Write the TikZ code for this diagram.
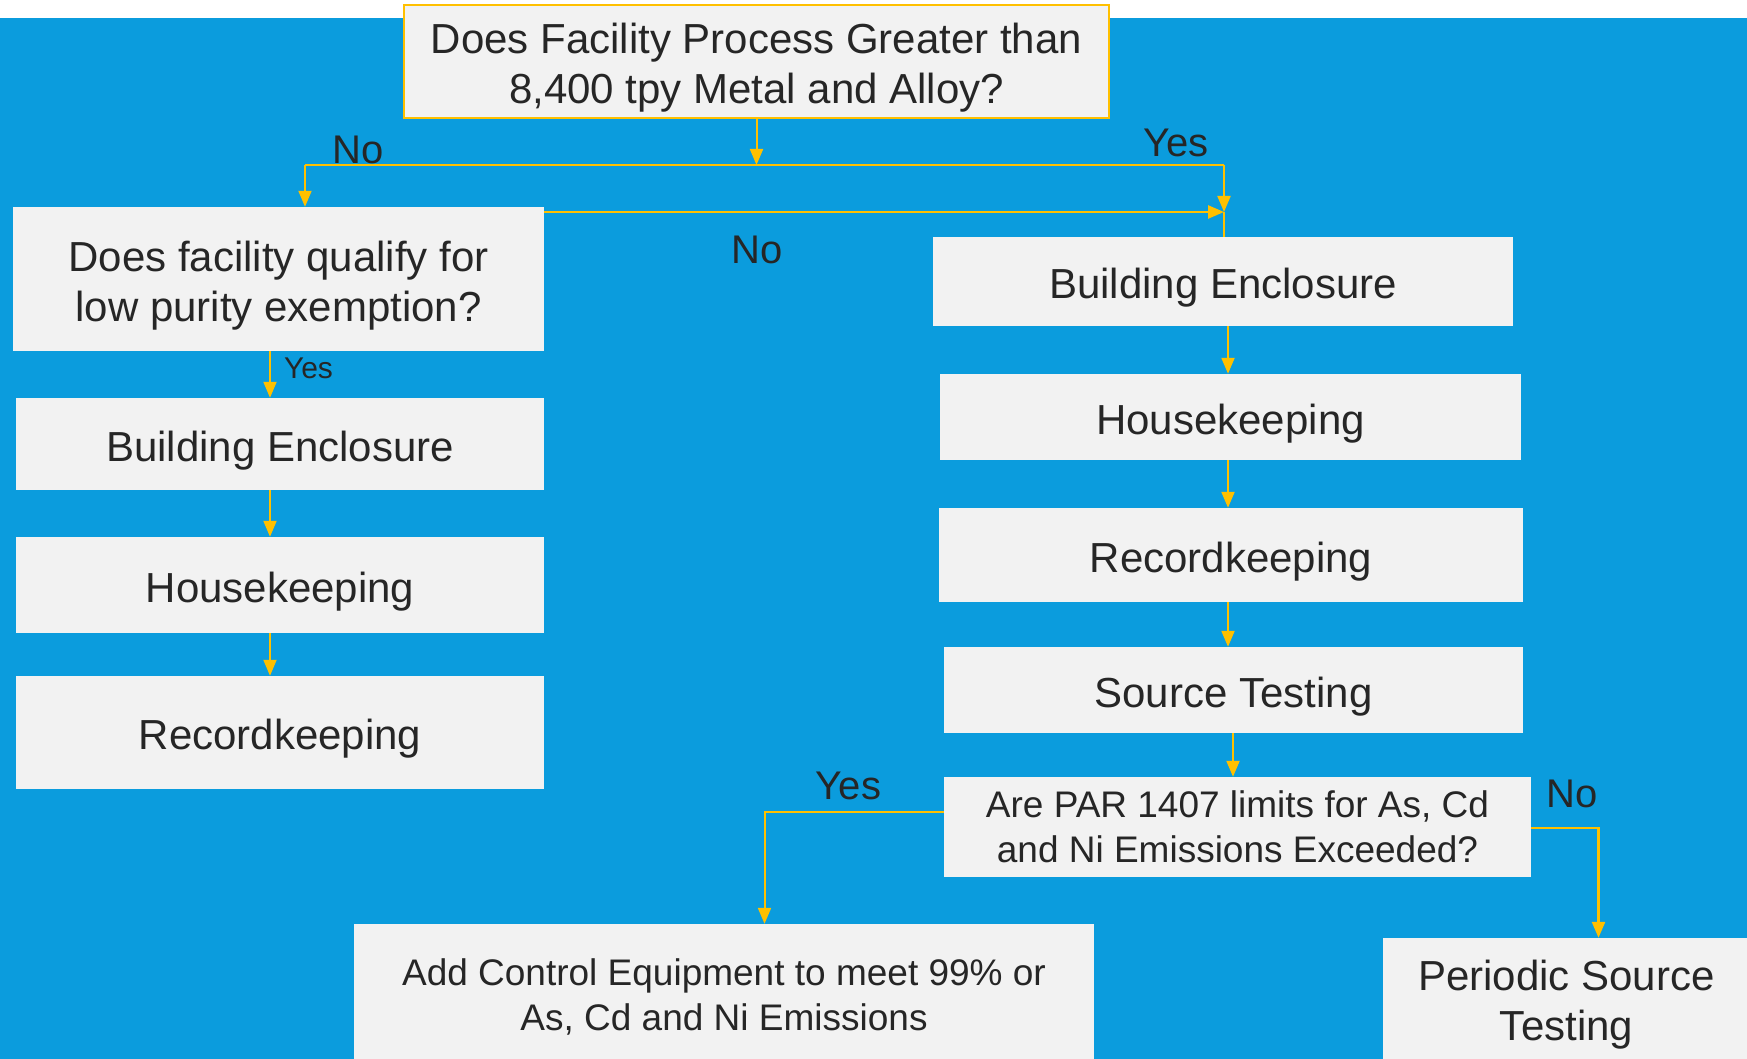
\documentclass[tikz,border=0pt]{standalone}
\usepackage{fontspec}
\setmainfont{Liberation Sans}
\usetikzlibrary{arrows.meta}
\definecolor{bgblue}{RGB}{11,156,221}
\definecolor{ylw}{RGB}{255,192,0}
\definecolor{boxgray}{RGB}{242,242,242}
\definecolor{txt}{RGB}{38,38,38}
\tikzset{
 box/.style={fill=boxgray, text=txt, inner sep=0pt, align=center, font=\fontsize{42}{50}\selectfont},
 lowered/.style={box, text height=43.5pt},
 lowered2/.style={box, text height=93.2pt},
 smallbox/.style={box, font=\fontsize{37}{44.5}\selectfont},
 lbl/.style={text=txt, inner sep=0pt, font=\fontsize{40}{48}\selectfont},
 slbl/.style={text=txt, inner sep=0pt, font=\fontsize{30}{36}\selectfont},
 conn/.style={draw=ylw, line width=2pt},
 arr/.style={conn, -{Triangle[length=16pt,width=13pt]}},
}
\begin{document}
\begin{tikzpicture}[x=1pt,y=-1pt]
\useasboundingbox (0,0) rectangle (1747,1059);
\clip (0,0) rectangle (1747,1059);
\fill[white] (0,0) rectangle (1747,1059);
\fill[bgblue] (0,18) rectangle (1747,1059);

% top decision
\node[lowered2, draw=ylw, line width=2.5pt, minimum width=705pt, minimum height=113pt] (top) at (756.5,61.5)
  {Does Facility Process Greater than\\8,400 tpy Metal and Alloy?};

% left column
\node[lowered2, minimum width=531pt, minimum height=144pt] (L1) at (278.5,279)
  {Does facility qualify for\\low purity exemption?};
\node[lowered, minimum width=528pt, minimum height=92pt] (L2) at (280,444) {Building Enclosure};
\node[lowered, minimum width=528pt, minimum height=96pt] (L3) at (280,585) {Housekeeping};
\node[lowered, minimum width=528pt, minimum height=113pt] (L4) at (280,732.5) {Recordkeeping};

% right column
\node[lowered, minimum width=580pt, minimum height=89pt] (R1) at (1223,281.5) {Building Enclosure};
\node[lowered, minimum width=581pt, minimum height=86pt] (R2) at (1230.5,417) {Housekeeping};
\node[lowered, minimum width=584pt, minimum height=94pt] (R3) at (1231,555) {Recordkeeping};
\node[lowered, minimum width=579pt, minimum height=86pt] (R4) at (1233.5,690) {Source Testing};
\node[smallbox, minimum width=587pt, minimum height=100pt] (R5) at (1237.5,827)
  {Are PAR 1407 limits for As, Cd\\and Ni Emissions Exceeded?};

% bottom outcomes
\node[smallbox, minimum width=740pt, minimum height=146pt] (B1) at (724,997)
  {Add Control Equipment to meet 99\% or\\As, Cd and Ni Emissions};
\node[box, text height=88.2pt, minimum width=367pt, minimum height=126pt] (B2) at (1566.5,1001)
  {Periodic Source\\Testing};

% junctions
\coordinate (h) at (756.5,165);
\coordinate (hl) at (305,165);
\coordinate (hr) at (1224,165);
\coordinate (j) at (1224,212);
\coordinate (lx) at (270,0);
\coordinate (rx) at (1228,0);
\coordinate (rx2) at (1233,0);
\coordinate (yk) at (764.5,811.5);
\coordinate (nk) at (1598.5,828);

% connectors
\draw[arr] (top.south) -- (top.south |- h);
\draw[conn, line width=2.5pt] (hl) -- (hr);
\draw[arr] (hl) -- (hl |- L1.north);
\draw[arr] (hr) -- (j);
\draw[arr, line width=2.5pt] (L1.east |- j) -- (j);
\draw[conn, line width=1.2pt] (j) -- (j |- R1.north);

\draw[arr] (L1.south -| lx) -- (L2.north -| lx);
\draw[arr] (L2.south -| lx) -- (L3.north -| lx);
\draw[arr] (L3.south -| lx) -- (L4.north -| lx);

\draw[arr] (R1.south -| rx) -- (R2.north -| rx);
\draw[arr] (R2.south -| rx) -- (R3.north -| rx);
\draw[arr] (R3.south -| rx) -- (R4.north -| rx);
\draw[arr] (R4.south -| rx2) -- (R5.north -| rx2);

\draw[arr] (R5.west |- yk) -- (yk) -- (yk |- B1.north);
\draw[arr, line width=2.5pt] (R5.east |- nk) -- (nk) -- (nk |- B2.north);

% labels
\node[lbl] (noA) at (358.5,150) {No};
\node[lbl] (yesA) at (1176,143) {Yes};
\node[lbl] (noB) at (757,250) {No};
\node[slbl] (yesB) at (308.5,368) {Yes};
\node[lbl] (yesC) at (848.5,786) {Yes};
\node[lbl] (noC) at (1572,794) {No};
\end{tikzpicture}
\end{document}
